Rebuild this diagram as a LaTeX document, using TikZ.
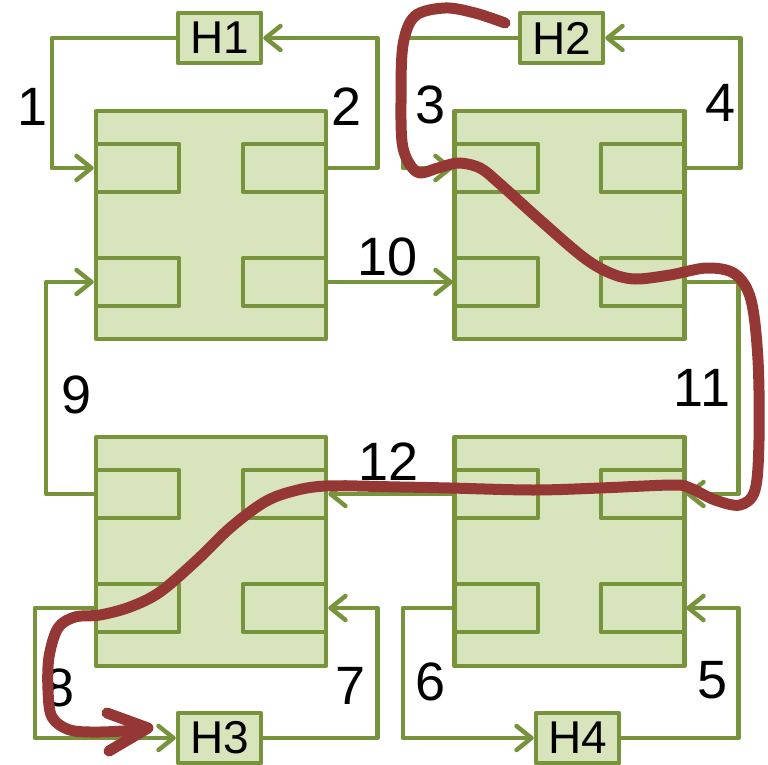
\documentclass[tikz,border=0pt]{standalone}
\usepackage{fontspec}
\setmainfont{Liberation Sans}
\usetikzlibrary{arrows.meta}
\definecolor{gfill}{RGB}{216,228,188}
\definecolor{gline}{RGB}{119,147,60}
\definecolor{rline}{RGB}{149,55,53}
\begin{document}
\begin{tikzpicture}[x=1pt,y=-1pt,
  blockbox/.style={draw=gline, fill=gfill, line width=4.5pt, minimum width=230pt, minimum height=228pt, inner sep=0pt, line join=round},
  portbox/.style={draw=gline, fill=gfill, line width=4.5pt, minimum width=83pt, minimum height=48pt, inner sep=0pt, line join=round},
  hbox/.style={draw=gline, fill=gfill, line width=4.5pt, minimum width=83pt, minimum height=50pt, inner sep=0pt, line join=round, font=\fontsize{46}{50}\selectfont},
  conn/.style={draw=gline, line width=4.5pt, line join=round},
  arr/.style={conn, -{Straight Barb[length=15pt,width=24pt,round]}},
  lbl/.style={inner sep=0pt, font=\fontsize{54}{60}\selectfont},
  redpath/.style={draw=rline, line width=11pt, line cap=round, line join=round}
]
\useasboundingbox (0,0) rectangle (768,765);
% blocks
\node[blockbox] (A) at (211,225) {};
\node[blockbox] (B) at (569.5,225) {};
\node[blockbox, minimum height=229pt] (C) at (211,551.5) {};
\node[blockbox, minimum height=229pt] (D) at (569.5,551.5) {};
% ports
\node[portbox] (A1) at (137.5,168) {};
\node[portbox] (A2) at (284.5,168) {};
\node[portbox] (A3) at (137.5,282) {};
\node[portbox] (A4) at (284.5,282) {};
\node[portbox] (B1) at (496.5,168) {};
\node[portbox] (B2) at (642.5,168) {};
\node[portbox] (B3) at (496.5,282) {};
\node[portbox] (B4) at (642.5,282) {};
\node[portbox] (C1) at (137.5,494) {};
\node[portbox] (C2) at (284.5,494) {};
\node[portbox] (C3) at (137.5,608) {};
\node[portbox] (C4) at (284.5,608) {};
\node[portbox] (D1) at (496.5,494) {};
\node[portbox] (D2) at (642.5,494) {};
\node[portbox] (D3) at (496.5,608) {};
\node[portbox] (D4) at (642.5,608) {};
% H boxes
\node[hbox] (H1) at (219.5,38) {H1};
\node[hbox] (H2) at (561.5,38) {H2};
\node[hbox] (H3) at (219.5,738) {H3};
\node[hbox] (H4) at (577.5,738) {H4};
% connectors
\draw[arr] (H1.west) -| ([xshift=-42pt]A1.west) -- (A1.west);
\draw[arr] (A2.east) -- ++(49,0) |- (H1.east);
\draw[arr] (H2.west) -| ([xshift=-50pt]B1.west) -- (B1.west);
\draw[arr] (B2.east) -- ++(54,0) |- (H2.east);
\draw[arr] (A4.east) -- (B3.west);
\draw[arr] (B4.east) -- ++(52,0) |- (D2.east);
\draw[arr] (D1.west) -- (C2.east);
\draw[arr] (C1.west) -- ++(-48,0) |- (A3.west);
\draw[arr] (C3.west) -- ++(-59,0) |- (H3.west);
\draw[arr] (H3.east) -| ([xshift=49pt]C4.east) -- (C4.east);
\draw[arr] (D3.west) -- ++(-50,0) |- (H4.west);
\draw[arr] (H4.east) -| ([xshift=52pt]D4.east) -- (D4.east);
% labels
\node[lbl] (l1) at (33,107) {1};
\node[lbl] (l2) at (347,107) {2};
\node[lbl] (l3) at (431,105) {3};
\node[lbl] (l4) at (721,103) {4};
\node[lbl] (l10) at (388,257) {10};
\node[lbl] (l11) at (702,388) {11};
\node[lbl] (l9) at (77,395) {9};
\node[lbl] (l12) at (389,462) {12};
\node[lbl] (l8) at (60,688) {8};
\node[lbl] (l7) at (351,686) {7};
\node[lbl] (l6) at (431,682) {6};
\node[lbl] (l5) at (713,680) {5};
% red path
\draw[redpath] plot[smooth, tension=0.55] coordinates {
  (505,23) (475,13) (445,8) (415,16) (403,45) (401,100) (403,148) (417,172)
  (438,168) (458,163) (480,168) (500,184) (540,220) (583,257) (610,273)
  (635,279) (670,275) (707,268) (735,274) (751,300) (758,360) (759,440)
  (755,490) (740,505) (715,500) (690,488) (673,485) (600,488) (533,490)
  (450,488) (400,487) (326,486) (290,492) (263,503) (230,528) (197,560)
  (160,592) (130,607) (100,615) (75,617) (58,628) (49,657) (48,690)
  (52,717) (70,730) (100,732) (138,730)};
\draw[redpath] (107,713) -- (148,728) -- (109,751);
\end{tikzpicture}
\end{document}
